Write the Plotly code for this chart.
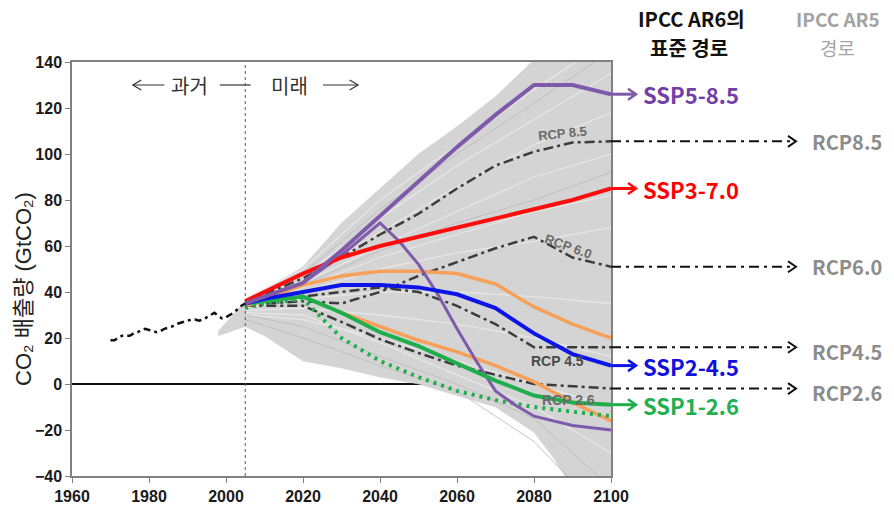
import plotly.graph_objects as go

# ---------------- data ----------------
hist_years = list(range(1970, 2006))
hist_vals = [19, 19, 20, 21, 21, 21, 22, 22.5, 23.5, 24, 23.5, 23, 22.5, 23, 24, 24.5,
             25, 26, 26.5, 27, 27.5, 28, 28, 27.5, 28, 29, 30, 31, 29.5, 28.5, 29, 30,
             31, 32.5, 34, 35]

yrs = [2005, 2010, 2020, 2030, 2040, 2050, 2060, 2070, 2080, 2090, 2100]
ssp585 = [35, 38, 44, 58, 73, 88, 103, 117, 130, 130, 126]
ssp370 = [36, 40, 48, 55, 60, 64, 68, 72, 76, 80, 85]
ssp245 = [35, 37, 40, 43, 43, 42, 39, 33, 22, 13, 8]
ssp126 = [35, 36, 38, 31, 22.5, 16.5, 9, 1.5, -5, -8, -9]
ssp119 = [33, 35, 37, 20, 10, 3, -3, -7, -10, -12, -14]
orange_hi = [34, 37, 43, 47, 49, 49, 48, 43.5, 33.5, 26, 20]
orange_lo = [34, 36, 38, 31, 25, 19, 14, 8, 1, -8, -16]

os_years = [2005, 2010, 2020, 2030, 2040, 2045, 2050, 2055, 2060, 2065, 2070, 2075, 2080, 2090, 2100]
ssp534os = [35, 38, 44, 56, 70, 62, 52, 39, 24, 10, -3, -9, -14, -18, -20]

rcp85 = [36, 39, 46, 55, 65, 74, 85, 95, 101, 105, 105.5]
rcp60 = [35, 35, 36, 35, 40, 47, 53, 59, 64, 55, 51]
rcp45 = [35, 36, 38, 40, 42, 40, 34, 26, 16, 16, 16]
rcp26 = [34, 34, 34, 27, 19.5, 13.5, 8, 4, 0, -1, -2]

fan_years = [1998, 2005, 2010, 2020, 2030, 2040, 2050, 2060, 2070, 2080, 2085, 2090, 2100]
fan_hi = [23, 36, 41, 51, 70, 85, 100, 112, 125, 141, 148, 155, 168]
fan_lo = [21, 25, 21, 10, 7, 3, 0, -5, -10, -21, -32, -45, -70]

streak_years = [2005, 2020, 2040, 2060, 2080, 2100]
streaks_light = [
    [37, 50, 80, 104, 128, 150],
    [36, 47, 72, 95, 115, 135],
    [36, 45, 66, 86, 104, 118],
    [35, 44, 60, 75, 90, 100],
    [35, 42, 55, 65, 75, 82],
    [34, 40, 50, 57, 62, 68],
    [33, 37, 40, 40, 38, 35],
    [32, 33, 30, 26, 20, 12],
    [30, 28, 20, 10, 0, -10],
    [31, 30, 18, 4, -10, -30],
]
streaks_dark = [
    [36, 48, 76, 100, 122, 145],
    [35, 43, 58, 70, 80, 92],
    [30, 25, 12, 0, -15, -45],
    [28, 20, 8, -3, -25, -60],
]

x_ticks = [1960, 1980, 2000, 2020, 2040, 2060, 2080, 2100]
y_ticks = [-40, -20, 0, 20, 40, 60, 80, 100, 120, 140]

ssp_labels = ["SSP5-8.5", "SSP3-7.0", "SSP2-4.5", "SSP1-2.6"]
rcp_labels = ["RCP8.5", "RCP6.0", "RCP4.5", "RCP2.6"]

# ---------------- styles ----------------
PURPLE = "#7f5aab"
RED = "#ff0d0d"
BLUE = "#0d14e6"
GREEN = "#1fae4c"
ORANGE = "#f7a05a"
DD = "#3c3c3c"
KR = "Noto Sans CJK KR"

fig = go.Figure()

# gray fan
fig.add_trace(go.Scatter(x=fan_years, y=fan_lo, mode="lines", line=dict(color="#cfcfcf", width=0.5),
                         hoverinfo="skip"))
fig.add_trace(go.Scatter(x=fan_years, y=fan_hi, mode="lines", line=dict(color="#dadada", width=0.5),
                         fill="tonexty", fillcolor="#d4d4d4", hoverinfo="skip"))
for s in streaks_light:
    fig.add_trace(go.Scatter(x=streak_years, y=s, mode="lines", line=dict(color="#e6e6e6", width=1.3),
                             hoverinfo="skip"))
for s in streaks_dark:
    fig.add_trace(go.Scatter(x=streak_years, y=s, mode="lines", line=dict(color="#bdbdbd", width=0.9),
                             hoverinfo="skip"))

# RCP dash-dot lines
ddash = "10px,4px,3px,4px"
for r in [rcp85, rcp60, rcp45, rcp26]:
    fig.add_trace(go.Scatter(x=yrs, y=r, mode="lines", line=dict(color=DD, width=2.5, dash=ddash)))

# SSP lines
fig.add_trace(go.Scatter(x=yrs, y=orange_hi, mode="lines", line=dict(color=ORANGE, width=3.5)))
fig.add_trace(go.Scatter(x=yrs, y=orange_lo, mode="lines", line=dict(color=ORANGE, width=3.5)))
fig.add_trace(go.Scatter(x=yrs, y=ssp119, mode="lines", line=dict(color=GREEN, width=4, dash="3px,5px")))
fig.add_trace(go.Scatter(x=os_years, y=ssp534os, mode="lines", line=dict(color=PURPLE, width=3)))
fig.add_trace(go.Scatter(x=yrs, y=ssp126, mode="lines", line=dict(color=GREEN, width=4)))
fig.add_trace(go.Scatter(x=yrs, y=ssp245, mode="lines", line=dict(color=BLUE, width=4)))
fig.add_trace(go.Scatter(x=yrs, y=ssp370, mode="lines", line=dict(color=RED, width=4)))
fig.add_trace(go.Scatter(x=yrs, y=ssp585, mode="lines", line=dict(color=PURPLE, width=4)))

# historical
fig.add_trace(go.Scatter(x=hist_years, y=hist_vals, mode="lines",
                         line=dict(color="#111111", width=2.5, dash="7px,4px,3px,4px")))

shapes = []
annotations = []

# vertical dashed line at 2005
shapes.append(dict(type="line", xref="x", yref="y", x0=2005, x1=2005, y0=-40, y1=140,
                   line=dict(color="#555555", width=1, dash="3px,3px")))

# helper conversions (page pixels of the plot area: left 72, top 62, 539x414)
PW = 539.0
PH = 414.0
def px_to_paper(p):
    return (p - 72) / PW
def py_to_paper(p):
    return (476 - p) / PH
UNIT_PER_PX = 180.0 / PH

def chevron(x_tip_px, y, color, width):
    xt = px_to_paper(x_tip_px)
    xb = px_to_paper(x_tip_px - 8)
    dy = 5.5 * UNIT_PER_PX
    return dict(type="path", xref="paper", yref="y",
                path=f"M {xb} {y + dy} L {xt} {y} L {xb} {y - dy}",
                line=dict(color=color, width=width))

# SSP arrows and labels
ssp_series = [ssp585, ssp370, ssp245, ssp126]
ssp_colors = [PURPLE, RED, BLUE, GREEN]
ssp_text_colors = ["#7040a8", "#ff0000", "#1010e0", "#20b050"]
for lab, ser, col, tcol in zip(ssp_labels, ssp_series, ssp_colors, ssp_text_colors):
    yv = ser[-1]
    shapes.append(dict(type="line", xref="paper", yref="y", x0=1.0, x1=px_to_paper(635), y0=yv, y1=yv,
                       line=dict(color=col, width=3)))
    shapes.append(chevron(636, yv, col, 2.5))
    annotations.append(dict(xref="paper", yref="y", x=px_to_paper(641), y=yv, xanchor="left",
                            yanchor="middle", showarrow=False, text=f"<b>{lab}</b>",
                            font=dict(family=KR, size=22, color=tcol)))

# RCP arrows and labels
rcp_series = [rcp85, rcp60, rcp45, rcp26]
rcp_shift = [0, 0, -4, -4]
for lab, ser, sh in zip(rcp_labels, rcp_series, rcp_shift):
    yv = ser[-1]
    shapes.append(dict(type="line", xref="paper", yref="y", x0=1.0, x1=px_to_paper(793), y0=yv, y1=yv,
                       line=dict(color="#111111", width=2, dash="10px,5px,3px,5px")))
    shapes.append(chevron(796, yv, "#111111", 2))
    annotations.append(dict(xref="paper", yref="y", x=px_to_paper(810), y=yv, xanchor="left",
                            yanchor="middle", yshift=sh, showarrow=False, text=f"<b>{lab}</b>",
                            font=dict(family=KR, size=20, color="#8c8c8c")))

# headers (one annotation per line)
annotations.append(dict(xref="paper", yref="paper", x=px_to_paper(691), y=py_to_paper(19),
                        xanchor="center", yanchor="middle", showarrow=False,
                        text="<b>IPCC AR6의</b>", font=dict(family=KR, size=20, color="#111111")))
annotations.append(dict(xref="paper", yref="paper", x=px_to_paper(689), y=py_to_paper(47),
                        xanchor="center", yanchor="middle", showarrow=False,
                        text="<b>표준 경로</b>", font=dict(family=KR, size=20, color="#111111")))
annotations.append(dict(xref="paper", yref="paper", x=px_to_paper(838), y=py_to_paper(19),
                        xanchor="center", yanchor="middle", showarrow=False,
                        text="<b>IPCC AR5</b>", font=dict(family=KR, size=19, color="#a3a3a3")))
annotations.append(dict(xref="paper", yref="paper", x=px_to_paper(837), y=py_to_paper(47),
                        xanchor="center", yanchor="middle", showarrow=False,
                        text="경로", font=dict(family=KR, size=19, color="#a3a3a3")))

# y axis title
annotations.append(dict(xref="paper", yref="paper", x=px_to_paper(23), y=py_to_paper(289),
                        xanchor="center", yanchor="middle", showarrow=False, textangle=-90,
                        text="CO₂ 배출량 (GtCO₂)",
                        font=dict(family="Arial, Noto Sans CJK KR", size=22, color="#222222")))

# past / future
annotations.append(dict(xref="x", yref="y", x=1990.5, y=130, showarrow=False, text="과거",
                        font=dict(family=KR, size=20, color="#333333")))
annotations.append(dict(xref="x", yref="y", x=2016.5, y=130, showarrow=False, text="미래",
                        font=dict(family=KR, size=20, color="#333333")))
ac = "#333333"
shapes.append(dict(type="line", xref="x", yref="y", x0=1975.8, x1=1984.0, y0=130, y1=130,
                   line=dict(color=ac, width=1.2)))
shapes.append(dict(type="path", xref="x", yref="y",
                   path="M 1978.0 132.2 L 1975.8 130 L 1978.0 127.8", line=dict(color=ac, width=1.2)))
shapes.append(dict(type="line", xref="x", yref="y", x0=1998.4, x1=2006.4, y0=130, y1=130,
                   line=dict(color=ac, width=1.2)))
shapes.append(dict(type="line", xref="x", yref="y", x0=2025.2, x1=2034.3, y0=130, y1=130,
                   line=dict(color=ac, width=1.2)))
shapes.append(dict(type="path", xref="x", yref="y",
                   path="M 2032.1 132.2 L 2034.3 130 L 2032.1 127.8", line=dict(color=ac, width=1.2)))

# inner RCP labels
annotations.append(dict(xref="x", yref="y", x=2087.5, y=109, showarrow=False, text="<b>RCP 8.5</b>",
                        textangle=-6, font=dict(family="Arial", size=13, color="#6a6a6a")))
annotations.append(dict(xref="x", yref="y", x=2089, y=60, showarrow=False, text="<b>RCP 6.0</b>",
                        textangle=20, font=dict(family="Arial", size=13, color="#6a6a6a")))
annotations.append(dict(xref="x", yref="y", x=2086, y=10, showarrow=False, text="<b>RCP 4.5</b>",
                        font=dict(family="Arial", size=14, color="#4a4a4a")))
annotations.append(dict(xref="x", yref="y", x=2089, y=-7, showarrow=False, text="<b>RCP 2.6</b>",
                        font=dict(family="Arial", size=14, color="#6a6a6a")))

fig.update_layout(
    width=894, height=511,
    margin=dict(l=72, r=283, t=62, b=35),
    plot_bgcolor="white", paper_bgcolor="white",
    showlegend=False,
    shapes=shapes, annotations=annotations,
    xaxis=dict(range=[1960, 2100], tickvals=x_ticks, ticks="outside", ticklen=5,
               tickcolor="#808080", showline=True, linecolor="#808080", linewidth=1.5,
               mirror=True, showgrid=False, zeroline=False, automargin=False,
               tickfont=dict(family="Arial", size=16, color="#1a1a1a", weight="bold")),
    yaxis=dict(range=[-40, 140], tickvals=y_ticks, ticks="outside", ticklen=5,
               tickcolor="#808080", showline=True, linecolor="#808080", linewidth=1.5,
               mirror=True, showgrid=False, zeroline=True, zerolinecolor="#111111",
               zerolinewidth=1.5, automargin=False,
               tickfont=dict(family="Arial", size=16, color="#1a1a1a", weight="bold")),
)

# remove the default 8px page margin so the 894x511 figure fills the window exactly
fig.write_html("out.html", config={"displayModeBar": False},
               post_script="document.body.style.margin='0px';")
